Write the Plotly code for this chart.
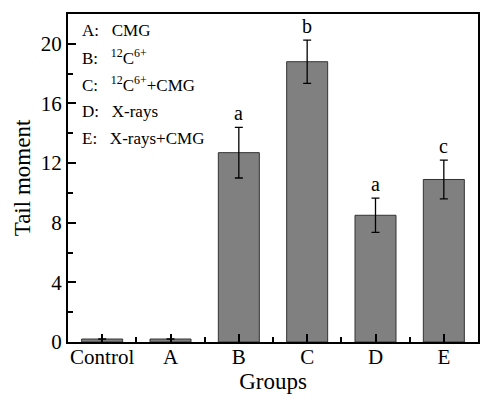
import plotly.graph_objects as go

groups = ["Control", "A", "B", "C", "D", "E"]
values = [0.2, 0.2, 12.7, 18.8, 8.5, 10.9]
errors = [0.0, 0.0, 1.7, 1.45, 1.15, 1.3]
letters = ["", "", "a", "b", "a", "c"]
legend_lines = [
    "A:\u00a0\u00a0\u00a0CMG",
    "B:\u00a0\u00a0\u00a0<sup>12</sup>C<sup>6+</sup>",
    "C:\u00a0\u00a0\u00a0<sup>12</sup>C<sup>6+</sup>+CMG",
    "D:\u00a0\u00a0\u00a0X-rays",
    "E:\u00a0\u00a0\u00a0X-rays+CMG",
]
y_ticks = [0, 4, 8, 12, 16, 20]

xpos = list(range(len(groups)))
FONT = "Liberation Serif, Times New Roman, serif"

fig = go.Figure()
fig.add_trace(go.Bar(
    x=xpos, y=values, width=0.6,
    marker=dict(color="#808080", line=dict(color="#333333", width=1)),
    error_y=dict(type="data", array=errors, visible=True, color="black",
                 thickness=1.3, width=4),
    showlegend=False,
))

for xi, v, e, l in zip(xpos, values, errors, letters):
    if l:
        fig.add_annotation(x=xi, y=v + e, text=l, showarrow=False,
                           yanchor="bottom", yshift=1,
                           font=dict(family=FONT, size=20, color="black"))

for i, t in enumerate(legend_lines):
    fig.add_annotation(xref="paper", yref="paper", x=0.03, y=0.951 - i * 0.0823,
                       text=t, showarrow=False, xanchor="left", yanchor="middle",
                       font=dict(family=FONT, size=17, color="black"))

fig.update_layout(
    width=481, height=398,
    margin=dict(l=68, r=3, t=14, b=56),
    paper_bgcolor="white", plot_bgcolor="white",
    font=dict(family=FONT, color="black"),
    bargap=0.4,
)
fig.update_xaxes(
    range=[-0.5, 5.5], tickmode="array", tickvals=xpos, ticktext=groups,
    ticks="inside", ticklen=8, tickwidth=1.5, tickcolor="black",
    minor=dict(tickmode="array", tickvals=[0.5, 1.5, 2.5, 3.5, 4.5],
               ticks="inside", ticklen=5, tickwidth=1.5, tickcolor="black"),
    showline=True, linecolor="black", linewidth=2, mirror=True,
    showgrid=False, zeroline=False, automargin=False,
    ticklabelstandoff=-5,
    tickfont=dict(family=FONT, size=21, color="black"),
    title=dict(text="Groups", font=dict(family=FONT, size=23, color="black"), standoff=2),
)
fig.update_yaxes(
    range=[0, 22], tickmode="array", tickvals=y_ticks,
    ticks="inside", ticklen=8, tickwidth=1.5, tickcolor="black",
    minor=dict(tickmode="array", tickvals=[2, 6, 10, 14, 18],
               ticks="inside", ticklen=5, tickwidth=1.5, tickcolor="black"),
    showline=True, linecolor="black", linewidth=2, mirror=True,
    showgrid=False, zeroline=False, automargin=False,
    tickfont=dict(family=FONT, size=21, color="black"),
    title=dict(text="Tail moment", font=dict(family=FONT, size=23, color="black"), standoff=4),
)

fig.write_html(
    "out.html",
    config={"displayModeBar": False},
    post_script="document.body.style.margin='0px';document.body.style.overflow='hidden';",
)
